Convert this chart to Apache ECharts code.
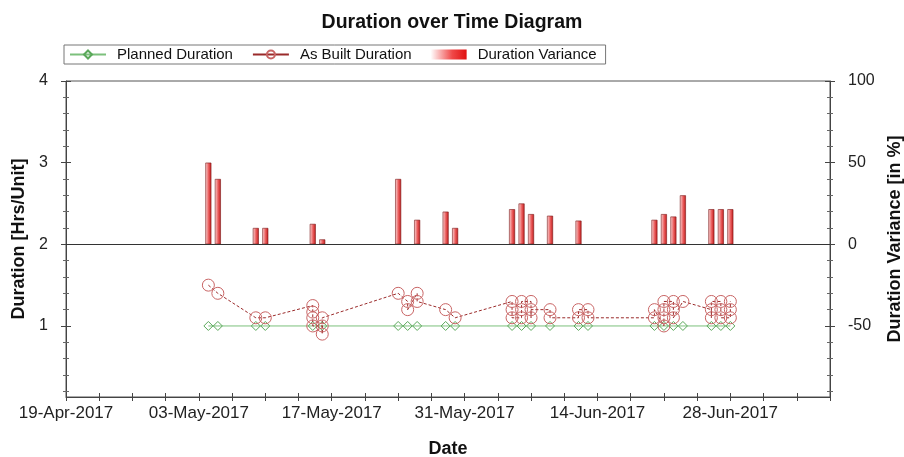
<!DOCTYPE html>
<html>
<head>
<meta charset="utf-8">
<script src="https://cdn.jsdelivr.net/npm/echarts@6/dist/echarts.min.js"></script>
<style>
  html, body { margin: 0; padding: 0; background: #fff; }
  #chart { width: 904px; height: 457px; }
</style>
</head>
<body>
<div id="chart"></div>
<script>
// planned duration per record date
const planDates = ['2017-05-04', '2017-05-05', '2017-05-09', '2017-05-10', '2017-05-15', '2017-05-16',
    '2017-05-24', '2017-05-25', '2017-05-26', '2017-05-29', '2017-05-30',
    '2017-06-05', '2017-06-06', '2017-06-07', '2017-06-09', '2017-06-12', '2017-06-13',
    '2017-06-20', '2017-06-21', '2017-06-22', '2017-06-23', '2017-06-26', '2017-06-27', '2017-06-28'];
const planValues = [1, 1, 1, 1, 1, 1, 1, 1, 1, 1, 1, 1, 1, 1, 1, 1, 1, 1, 1, 1, 1, 1, 1, 1];

// as built records (several per day on some dates)
const builtDates = ['2017-05-04', '2017-05-05', '2017-05-09', '2017-05-10',
    '2017-05-15', '2017-05-15', '2017-05-15', '2017-05-15',
    '2017-05-16', '2017-05-16', '2017-05-16',
    '2017-05-24', '2017-05-25', '2017-05-25', '2017-05-26', '2017-05-26', '2017-05-29', '2017-05-30',
    '2017-06-05', '2017-06-05', '2017-06-05', '2017-06-06', '2017-06-06', '2017-06-06',
    '2017-06-07', '2017-06-07', '2017-06-07', '2017-06-09', '2017-06-09',
    '2017-06-12', '2017-06-12', '2017-06-13', '2017-06-13',
    '2017-06-20', '2017-06-20', '2017-06-21', '2017-06-21', '2017-06-21', '2017-06-21',
    '2017-06-22', '2017-06-22', '2017-06-22', '2017-06-23',
    '2017-06-26', '2017-06-26', '2017-06-26', '2017-06-27', '2017-06-27', '2017-06-27',
    '2017-06-28', '2017-06-28', '2017-06-28'];
const builtValues = [1.5, 1.4, 1.1, 1.1,
    1.25, 1.17, 1.1, 1.0,
    1.0, 0.9, 1.1,
    1.4, 1.3, 1.2, 1.4, 1.3, 1.2, 1.1,
    1.3, 1.2, 1.1, 1.1, 1.2, 1.3,
    1.3, 1.1, 1.2, 1.2, 1.1,
    1.1, 1.2, 1.2, 1.1,
    1.1, 1.2, 1.0, 1.1, 1.2, 1.3,
    1.3, 1.2, 1.1, 1.3,
    1.2, 1.1, 1.3, 1.3, 1.2, 1.1,
    1.1, 1.2, 1.3];

// variance in %
const varDates = ['2017-05-04', '2017-05-05', '2017-05-09', '2017-05-10', '2017-05-15', '2017-05-16',
    '2017-05-24', '2017-05-26', '2017-05-29', '2017-05-30',
    '2017-06-05', '2017-06-06', '2017-06-07', '2017-06-09', '2017-06-12',
    '2017-06-20', '2017-06-21', '2017-06-22', '2017-06-23', '2017-06-26', '2017-06-27', '2017-06-28'];
const varValues = [50, 40, 10, 10, 12.5, 3,
    40, 15, 20, 10,
    21.5, 25, 18.5, 17.5, 14.5,
    15, 18.5, 17, 30, 21.5, 21.5, 21.5];

// axis labels / ticks
const xMin = '2017-04-19 00:00';
const xMax = '2017-07-08 12:00';
const xLabelDates = ['2017-04-19', '2017-05-03', '2017-05-17', '2017-05-31', '2017-06-14', '2017-06-28'];
const xTickDates = ['2017-04-19 00:00', '2017-04-22 12:00', '2017-04-26 00:00', '2017-04-29 12:00',
    '2017-05-03 00:00', '2017-05-06 12:00', '2017-05-10 00:00', '2017-05-13 12:00',
    '2017-05-17 00:00', '2017-05-20 12:00', '2017-05-24 00:00', '2017-05-27 12:00',
    '2017-05-31 00:00', '2017-06-03 12:00', '2017-06-07 00:00', '2017-06-10 12:00',
    '2017-06-14 00:00', '2017-06-17 12:00', '2017-06-21 00:00', '2017-06-24 12:00',
    '2017-06-28 00:00', '2017-07-01 12:00', '2017-07-05 00:00', '2017-07-08 12:00'];
const leftLabels = [1, 2, 3, 4];
const leftMinor = [0.2, 0.4, 0.6, 0.8, 1.2, 1.4, 1.6, 1.8, 2.2, 2.4, 2.6, 2.8, 3.2, 3.4, 3.6, 3.8];
const rightLabels = [-50, 0, 50, 100];
const rightMinor = [-90, -80, -70, -60, -40, -30, -20, -10, 10, 20, 30, 40, 60, 70, 80, 90];

const months = ['Jan', 'Feb', 'Mar', 'Apr', 'May', 'Jun', 'Jul', 'Aug', 'Sep', 'Oct', 'Nov', 'Dec'];
// date string -> UTC timestamp (x axis is a plain value axis in ms)
function ts(s) {
    const parts = s.split(' ');
    const ymd = parts[0].split('-').map(Number);
    const hm = (parts[1] || '00:00').split(':').map(Number);
    return Date.UTC(ymd[0], ymd[1] - 1, ymd[2], hm[0], hm[1]);
}
function fmtDate(v) {
    const d = new Date(v);
    const day = d.getUTCDate() < 10 ? '0' + d.getUTCDate() : '' + d.getUTCDate();
    return day + '-' + months[d.getUTCMonth()] + '-' + d.getUTCFullYear();
}
const zip = (a, b) => a.map((x, i) => [ts(x), b[i]]);

const FONT = 'Liberation Sans, Arial, sans-serif';
const AXIS = '#444';

const chart = echarts.init(document.getElementById('chart'));
chart.setOption({
    animation: false,
    textStyle: { fontFamily: FONT },
    title: {
        text: 'Duration over Time Diagram',
        left: 'center',
        top: 8,
        textStyle: { fontSize: 19.5, fontWeight: 'bold', color: '#111', fontFamily: FONT }
    },
    legend: {
        left: 64,
        top: 45,
        data: [
            { name: 'Planned Duration' },
            { name: 'As Built Duration', lineStyle: { type: 'solid' } },
            {
                name: 'Duration Variance', icon: 'rect',
                itemStyle: {
                    color: new echarts.graphic.LinearGradient(0, 0, 1, 0, [
                        { offset: 0, color: '#ffffff' },
                        { offset: 0.6, color: '#f04848' },
                        { offset: 1, color: '#e01010' }
                    ]),
                    borderWidth: 0
                }
            }
        ],
        itemWidth: 36,
        itemHeight: 10,
        itemGap: 19,
        padding: [2, 9, 2, 5],
        borderColor: '#777',
        borderWidth: 1,
        textStyle: { fontSize: 15, color: '#111', padding: [0, 0, 0, 6], fontFamily: FONT }
    },
    grid: {
        left: 66, right: 74, top: 81, bottom: 60,
        outerBoundsMode: 'none',
        containLabel: false,
        show: true, borderColor: '#555', borderWidth: 1
    },
    xAxis: [
        {
            type: 'value', position: 'bottom', min: ts(xMin), max: ts(xMax),
            axisLine: { onZero: false, lineStyle: { color: AXIS } },
            axisTick: { show: false },
            splitLine: { show: false },
            axisLabel: {
                customValues: xLabelDates.map(ts),
                formatter: fmtDate,
                fontSize: 17, color: '#222', margin: 8
            },
            name: 'Date', nameLocation: 'middle', nameGap: 43,
            nameTextStyle: { fontSize: 18, fontWeight: 'bold', color: '#111' }
        },
        {
            type: 'value', position: 'bottom', min: ts(xMin), max: ts(xMax), offset: -4,
            axisLine: { show: false, onZero: false },
            axisTick: { show: true, customValues: xTickDates.map(ts), length: 8, lineStyle: { color: AXIS } },
            axisLabel: { show: false },
            splitLine: { show: false }
        }
    ],
    yAxis: [
        {
            type: 'value', position: 'left', min: 0.13, max: 4,
            axisLine: { show: true, onZero: false, lineStyle: { color: AXIS } },
            axisTick: { show: false },
            splitLine: { show: false },
            axisLabel: { customValues: leftLabels, fontSize: 16, color: '#222', margin: 18 },
            name: 'Duration [Hrs/Unit]', nameLocation: 'middle', nameGap: 38, nameRotate: 90,
            nameTextStyle: { fontSize: 18, fontWeight: 'bold', color: '#111' }
        },
        {
            type: 'value', position: 'right', min: -93.5, max: 100,
            axisLine: { show: true, onZero: false, lineStyle: { color: AXIS } },
            axisTick: { show: false },
            splitLine: { show: false },
            axisLabel: { customValues: rightLabels, fontSize: 16, color: '#222', margin: 18 },
            name: 'Duration Variance [in %]', nameLocation: 'middle', nameGap: 56, nameRotate: 90,
            nameTextStyle: { fontSize: 18, fontWeight: 'bold', color: '#111' }
        },
        {
            type: 'value', position: 'left', min: 0.13, max: 4, offset: -3,
            axisLine: { show: false, onZero: false }, splitLine: { show: false }, axisLabel: { show: false },
            axisTick: { show: true, customValues: leftMinor, length: 6, lineStyle: { color: '#666' } }
        },
        {
            type: 'value', position: 'left', min: 0.13, max: 4, offset: -5,
            axisLine: { show: false, onZero: false }, splitLine: { show: false }, axisLabel: { show: false },
            axisTick: { show: true, customValues: leftLabels, length: 10, lineStyle: { color: AXIS } }
        },
        {
            type: 'value', position: 'right', min: -93.5, max: 100, offset: -3,
            axisLine: { show: false, onZero: false }, splitLine: { show: false }, axisLabel: { show: false },
            axisTick: { show: true, customValues: rightMinor, length: 6, lineStyle: { color: '#666' } }
        },
        {
            type: 'value', position: 'right', min: -93.5, max: 100, offset: -5,
            axisLine: { show: false, onZero: false }, splitLine: { show: false }, axisLabel: { show: false },
            axisTick: { show: true, customValues: rightLabels, length: 10, lineStyle: { color: AXIS } }
        }
    ],
    series: [
        {
            name: 'Duration Variance',
            type: 'bar',
            xAxisIndex: 0,
            yAxisIndex: 1,
            barWidth: 6,
            data: zip(varDates, varValues),
            itemStyle: {
                color: new echarts.graphic.LinearGradient(0, 0, 1, 0, [
                    { offset: 0, color: '#fbdcdc' },
                    { offset: 0.55, color: '#ea5c5c' },
                    { offset: 1, color: '#c01a1a' }
                ]),
                borderColor: '#7a1a1a',
                borderWidth: 0.6
            },
            markLine: {
                silent: true,
                symbol: 'none',
                label: { show: false },
                lineStyle: { color: '#333', width: 1, type: 'solid' },
                data: [{ yAxis: 0 }]
            },
            z: 1
        },
        {
            name: 'Planned Duration',
            type: 'line',
            xAxisIndex: 0,
            yAxisIndex: 0,
            data: zip(planDates, planValues),
            symbol: 'diamond',
            symbolSize: 9,
            lineStyle: { color: '#7cc07c', width: 1 },
            itemStyle: { color: 'rgba(255,255,255,0)', borderColor: '#5aa85a', borderWidth: 1 },
            z: 3
        },
        {
            name: 'As Built Duration',
            type: 'line',
            xAxisIndex: 0,
            yAxisIndex: 0,
            data: zip(builtDates, builtValues),
            symbol: 'circle',
            symbolSize: 12,
            lineStyle: { color: '#9a2a2a', width: 1, type: [3, 2] },
            itemStyle: { color: 'rgba(255,255,255,0)', borderColor: '#c86464', borderWidth: 1 },
            z: 4
        }
    ]
});
</script>
</body>
</html>
